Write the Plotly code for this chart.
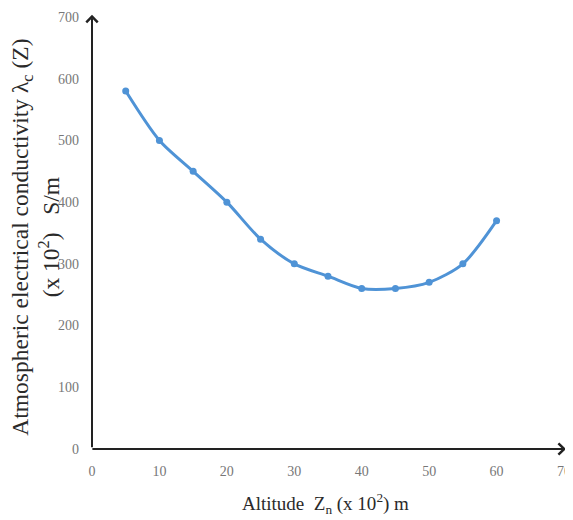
import plotly.graph_objects as go

altitude = [5, 10, 15, 20, 25, 30, 35, 40, 45, 50, 55, 60]
conductivity = [580, 500, 450, 400, 340, 300, 280, 260, 260, 270, 300, 370]
x_ticks = [0, 10, 20, 30, 40, 50, 60, 70]
y_ticks = [0, 100, 200, 300, 400, 500, 600, 700]

fig = go.Figure()
fig.add_trace(go.Scatter(
    x=altitude, y=conductivity, mode="lines+markers",
    line=dict(color="#4F93D6", width=3, shape="spline", smoothing=0.8),
    marker=dict(color="#4F93D6", size=7),
    showlegend=False,
))

serif = "Liberation Serif, Times New Roman, serif"
tickfont = dict(family=serif, size=14, color="#777777")

# page body has an 8px margin, so the figure is sized to fit the 573x520 window
fig.update_layout(
    width=565, height=512,
    margin=dict(l=84, r=9, t=9, b=71),
    paper_bgcolor="white", plot_bgcolor="white",
    xaxis=dict(range=[0, 70], tickvals=x_ticks, showgrid=False, zeroline=False,
               showline=False, ticks="", tickfont=tickfont, ticklabelstandoff=12,
               automargin=False),
    yaxis=dict(range=[0, 700], tickvals=y_ticks, showgrid=False, zeroline=False,
               showline=False, ticks="", tickfont=tickfont, ticklabelstandoff=12,
               automargin=False),
)

# axis arrows
fig.add_annotation(x=0, y=1.005, xref="paper", yref="paper", ax=0, ay=434,
                   showarrow=True, arrowhead=4, arrowsize=1.1, arrowwidth=2,
                   arrowcolor="#222222", text="")
fig.add_annotation(x=1.004, y=0, xref="paper", yref="paper", ax=-475, ay=0,
                   showarrow=True, arrowhead=4, arrowsize=1.1, arrowwidth=2,
                   arrowcolor="#222222", text="")

# axis titles
fig.add_annotation(x=-0.12, y=0.49, xref="paper", yref="paper",
                   xanchor="center", yanchor="middle",
                   text="Atmospheric electrical conductivity λ<sub>c</sub> (Z)<br>(x 10<sup>2</sup>)   S/m",
                   textangle=-90, showarrow=False,
                   font=dict(family=serif, size=23.5, color="#2a2a2a"), align="center")
fig.add_annotation(x=0.494, y=-0.125, xref="paper", yref="paper",
                   xanchor="center", yanchor="middle",
                   text="Altitude  Z<sub>n</sub> (x 10<sup>2</sup>) m",
                   showarrow=False, font=dict(family=serif, size=19, color="#2a2a2a"))

fig.write_html("out.html")
